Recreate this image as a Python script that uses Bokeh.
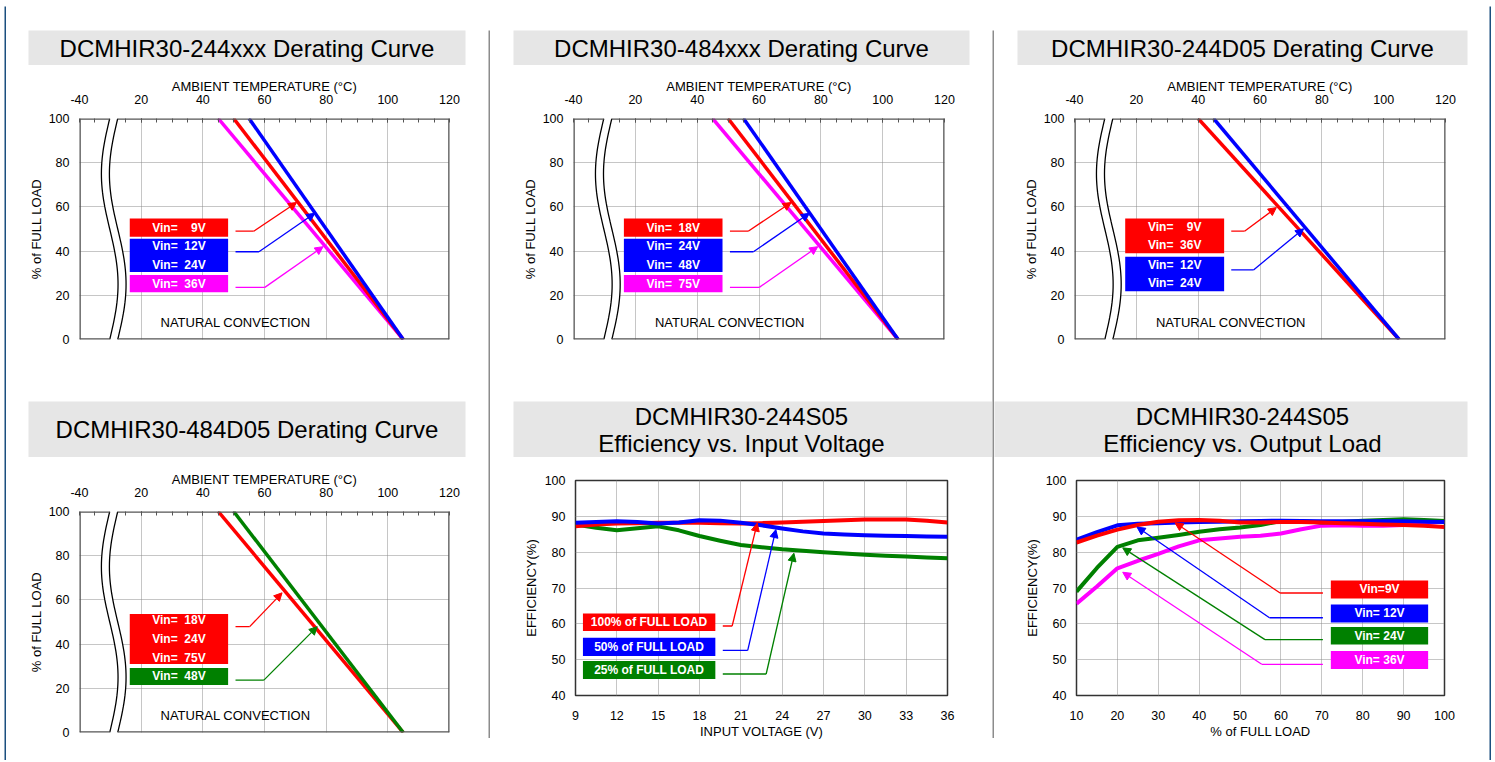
import numpy as np
from bokeh.plotting import figure
from bokeh.layouts import row, column
from bokeh.models import Range1d, FixedTicker, Arrow, NormalHead
from bokeh.core.properties import value
from bokeh.embed import file_html
from bokeh.resources import INLINE

FONT = "Liberation Sans"
RED, BLUE, GREEN, MAG = "#FF0000", "#0000FF", "#008000", "#FF00FF"
BORDER = "#1B4F7F"
SEP = "#8C8C8C"
NB = "\u00a0"

# ---------------- data ----------------
load_pct = [100, 0]                      # derating: % of full load at start / end temp
t244xxx_9v = [50, 105]
t244xxx_12v_24v = [55, 105]
t244xxx_36v = [45, 105]
t484xxx_18v = [50, 105]
t484xxx_24v_48v = [55, 105]
t484xxx_75v = [45, 105]
t244d05_9v_36v = [40, 105]
t244d05_12v_24v = [45, 105]
t484d05_18v_24v_75v = [45, 105]
t484d05_48v = [50, 105]

temp_ticks = [0, 20, 40, 60, 80, 100, 120]
temp_tick_labels = {0: "-40"}
load_ticks = [0, 20, 40, 60, 80, 100]

vin = [9, 10.5, 12, 13.5, 15, 16.5, 18, 19.5, 21, 22.5, 24, 25.5, 27, 28.5, 30, 31.5, 33, 34.5, 36]
eff_full = [87.2, 87.7, 88.0, 88.1, 88.2, 88.2, 88.2, 88.1, 88.0, 88.1, 88.3, 88.5, 88.7, 88.9, 89.1, 89.1, 89.1, 88.8, 88.3]
eff_half = [88.2, 88.4, 88.6, 88.4, 88.0, 88.3, 88.9, 88.8, 88.2, 87.5, 86.6, 85.8, 85.2, 84.9, 84.7, 84.6, 84.5, 84.4, 84.3]
eff_quarter = [87.7, 86.8, 86.1, 86.7, 87.2, 86.1, 84.5, 83.2, 82.0, 81.4, 80.8, 80.4, 80.0, 79.6, 79.3, 79.0, 78.8, 78.5, 78.3]
vin_ticks = [9, 12, 15, 18, 21, 24, 27, 30, 33, 36]

load = [10, 15, 20, 25, 30, 35, 40, 45, 50, 55, 60, 65, 70, 75, 80, 85, 90, 95, 100]
eff_9v = [82.7, 84.6, 86.3, 87.6, 88.5, 88.9, 89.0, 88.8, 88.3, 88.3, 88.4, 88.4, 88.3, 88.1, 87.9, 87.7, 87.6, 87.4, 87.0]
eff_12v = [83.5, 85.6, 87.5, 87.9, 88.1, 88.3, 88.4, 88.5, 88.6, 88.7, 88.8, 88.7, 88.6, 88.6, 88.6, 88.6, 88.6, 88.5, 88.4]
eff_24v = [69.0, 75.6, 81.5, 83.3, 84.0, 84.8, 85.7, 86.4, 86.9, 87.6, 88.7, 88.6, 88.3, 88.4, 88.8, 89.0, 89.2, 89.0, 88.7]
eff_36v = [65.6, 70.4, 75.5, 77.6, 79.5, 81.6, 83.3, 83.8, 84.3, 84.6, 85.2, 86.4, 87.4, 87.5, 87.4, 87.4, 87.6, 88.0, 88.6]
load_ticks_eff = [10, 20, 30, 40, 50, 60, 70, 80, 90, 100]
eff_ticks = [40, 50, 60, 70, 80, 90, 100]


# ---------------- helpers ----------------
def no_align(p):
    try:
        p.frame_align = False
    except Exception:
        pass
    return p


def base_fig(w, h, l, fw, t, fh, **kw):
    p = figure(width=w, height=h, toolbar_location=None, output_backend="svg",
               min_border_left=l, min_border_right=w - l - fw,
               min_border_top=t, min_border_bottom=h - t - fh, **kw)
    p.border_fill_color = "white"
    p.background_fill_color = "white"
    return no_align(p)


def block(w, h, color):
    p = figure(width=w, height=h, toolbar_location=None, output_backend="svg",
               min_border=0, x_axis_type=None, y_axis_type=None,
               x_range=Range1d(0, 1), y_range=Range1d(0, 1))
    p.background_fill_color = color
    p.border_fill_color = color
    p.outline_line_color = None
    return no_align(p)


def title_fig(w, l, fw, t, fh, lines, tx=None):
    """lines: list of (text, distance of the line centre from the box top in px)"""
    p = base_fig(w, t + fh, l, fw, t, fh, x_range=Range1d(0, fw), y_range=Range1d(0, fh),
                 x_axis_type=None, y_axis_type=None)
    p.background_fill_color = "#E6E6E6"
    p.outline_line_color = None
    cx = fw / 2 if tx is None else tx
    p.text(x=[cx] * len(lines), y=[fh - d for _, d in lines], text=[s for s, _ in lines],
           text_font=value(FONT), text_font_size="24px", text_color="black",
           text_align="center", text_baseline="middle")
    return p


def hsep(w, l, fw):
    p = base_fig(w, 2, l, fw, 0, 2, x_range=Range1d(0, 1), y_range=Range1d(0, 1),
                 x_axis_type=None, y_axis_type=None)
    p.background_fill_color = SEP
    p.outline_line_color = None
    return p


def style_axes(p):
    for ax in p.axis:
        ax.major_label_text_font = FONT
        ax.major_label_text_font_size = "12.5px"
        ax.major_label_text_color = "black"
        ax.axis_label_text_font = FONT
        ax.axis_label_text_font_size = "13px"
        ax.axis_label_text_font_style = "normal"
        ax.axis_label_text_color = "black"
        ax.axis_line_color = None
        ax.major_tick_line_color = None
        ax.minor_tick_line_color = None
        ax.major_tick_out = 0
        ax.minor_tick_out = 0
    p.grid.grid_line_color = "#8C8C8C"
    p.grid.grid_line_dash = "1 1"
    p.grid.grid_line_width = 1


def add_box(p, l, r, b, t, color, text):
    p.quad(left=[l], right=[r], bottom=[b], top=[t], fill_color=color, line_color=None)
    p.text(x=[(l + r) / 2], y=[(b + t) / 2], text=[text], text_color="white",
           text_font=value(FONT), text_font_style="bold", text_font_size="12px",
           text_align="center", text_baseline="middle", text_line_height=1.33)


def add_conn(p, x0, x1, y, xt, yt, color):
    p.line([x0, x1], [y, y], line_color=color, line_width=1.3)
    p.add_layout(Arrow(end=NormalHead(size=8, fill_color=color, line_color=color, line_width=1),
                       x_start=x1, y_start=y, x_end=xt, y_end=yt,
                       line_color=color, line_width=1.3))


def derating(w, h, l, fw, t, series, boxes, conns):
    p = base_fig(w, h, l, fw, t, 221, x_range=Range1d(0, 120), y_range=Range1d(0, 100),
                 x_axis_location="above")
    p.outline_line_color = None
    style_axes(p)
    xa = p.xaxis[0]
    xa.ticker = FixedTicker(ticks=temp_ticks, minor_ticks=[5] + list(range(15, 120, 5)))
    xa.major_label_overrides = temp_tick_labels
    xa.axis_label = "AMBIENT TEMPERATURE (°C)"
    xa.major_tick_line_color = "#555555"
    xa.major_tick_in = 4
    xa.minor_tick_line_color = "#555555"
    xa.minor_tick_in = 4
    xa.major_label_standoff = 15
    xa.axis_label_standoff = -2
    ya = p.yaxis[0]
    ya.ticker = FixedTicker(ticks=load_ticks)
    ya.axis_label = "% of FULL LOAD"
    ya.major_label_standoff = 10
    ya.axis_label_standoff = 2
    p.xgrid.ticker = FixedTicker(ticks=temp_ticks[1:-1])
    p.ygrid.ticker = FixedTicker(ticks=load_ticks[1:-1])

    # axis break (decoration)
    yy = np.linspace(0, 100, 61)
    xl = 9.8 - 2.7 * np.sin(2 * np.pi * (100 - yy) / 100)
    xr = xl + 2.6
    p.patch(np.concatenate([xl, xr[::-1]]), np.concatenate([yy, yy[::-1]]),
            fill_color="white", line_color=None)
    p.line(xl, yy, line_color="black", line_width=1.3)
    p.line(xr, yy, line_color="black", line_width=1.3)

    for temps, color in series:
        p.line(temps, load_pct, line_color=color, line_width=3.5)

    # frame (interrupted by the break)
    fc = "#555555"
    p.multi_line(xs=[[0, xl[-1]], [xr[-1], 120], [0, xl[0]], [xr[0], 120], [0, 0], [120, 120]],
                 ys=[[100, 100], [100, 100], [0, 0], [0, 0], [0, 100], [0, 100]],
                 line_color=fc, line_width=2.6)

    for b in boxes:
        add_box(p, *b)
    for c in conns:
        add_conn(p, *c)
    p.text(x=[50.6], y=[7.7], text=["NATURAL CONVECTION"], text_font=value(FONT),
           text_font_size="13px", text_color="black", text_align="center", text_baseline="middle")
    return p


def efficiency(w, h, l, fw, t, xr, xticks, xlabel, series, boxes, conns):
    p = base_fig(w, h, l, fw, t, 215, x_range=Range1d(*xr), y_range=Range1d(40, 100))
    p.outline_line_color = "#333333"
    p.outline_line_width = 1.5
    style_axes(p)
    p.xaxis.ticker = FixedTicker(ticks=xticks)
    p.yaxis.ticker = FixedTicker(ticks=eff_ticks)
    p.xgrid.ticker = FixedTicker(ticks=xticks[1:-1])
    p.ygrid.ticker = FixedTicker(ticks=eff_ticks[1:-1])
    p.xaxis.axis_label = xlabel
    p.yaxis.axis_label = "EFFICIENCY(%)"
    p.xaxis.major_label_standoff = 15
    p.xaxis.axis_label_standoff = 1
    p.yaxis.major_label_standoff = 10
    p.yaxis.axis_label_standoff = 3
    for xs, ys, color in series:
        p.line(xs, ys, line_color=color, line_width=4, line_join="round")
    for b in boxes:
        add_box(p, *b)
    for c in conns:
        add_conn(p, *c)
    return p


# ---------------- panels ----------------
V9 = "Vin=" + NB * 4 + "9V"


def v(n):
    return "Vin=" + NB * 2 + n + "V"


def std_boxes(a, b, c):
    return [(16.3, 48.2, 46.5, 54.7, RED, a),
            (16.3, 48.2, 30.5, 45.6, BLUE, b),
            (16.3, 48.2, 21.4, 29.2, MAG, c)]


std_conns = [
    (50.6, 56.5, 49.0, 70.4, 62.0, RED),
    (50.6, 58.2, 39.7, 76.3, 57.1, BLUE),
    (50.6, 60.1, 23.6, 79.0, 42.0, MAG),
]

# column widths: A 482 (x 6-488), B 502 (x 490-992), C 495 (x 994-1489)
WA, WB, WC = 482, 502, 495
H_TOP_PLOT, H_BOT_PLOT = 307, 303

p1 = derating(WA, H_TOP_PLOT, 73, 370, 53,
              [(t244xxx_36v, MAG), (t244xxx_9v, RED), (t244xxx_12v_24v, BLUE)],
              std_boxes(V9, v("12") + "\n" + v("24"), v("36")), std_conns)

p2 = derating(WB, H_TOP_PLOT, 83, 371, 53,
              [(t484xxx_75v, MAG), (t484xxx_18v, RED), (t484xxx_24v_48v, BLUE)],
              std_boxes(v("18"), v("24") + "\n" + v("48"), v("75")), std_conns)

p3 = derating(WC, H_TOP_PLOT, 80, 371, 53,
              [(t244d05_9v_36v, RED), (t244d05_12v_24v, BLUE)],
              [(16.4, 48.4, 39.0, 54.7, RED, V9 + "\n" + v("36")),
               (16.4, 48.4, 21.8, 37.4, BLUE, v("12") + "\n" + v("24"))],
              [(50.7, 55.0, 49.0, 65.3, 59.7, RED),
               (50.7, 57.9, 31.5, 74.1, 50.1, BLUE)])

p4 = derating(WA, H_BOT_PLOT, 73, 370, 54,
              [(t484d05_18v_24v_75v, RED), (t484d05_48v, GREEN)],
              [(16.3, 48.2, 31.0, 53.6, RED, v("18") + "\n" + v("24") + "\n" + v("75")),
               (16.3, 48.2, 21.5, 29.2, GREEN, v("48"))],
              [(50.6, 55.2, 47.9, 65.7, 63.2, RED),
               (50.6, 59.8, 23.7, 77.1, 47.9, GREEN)])

p5 = efficiency(WB, H_BOT_PLOT, 85, 372, 23, (9, 36), vin_ticks, "INPUT VOLTAGE (V)",
                [(vin, eff_quarter, GREEN), (vin, eff_full, RED), (vin, eff_half, BLUE)],
                [(9.54, 19.15, 58.0, 62.9, RED, "100% of FULL LOAD"),
                 (9.54, 19.15, 51.0, 56.1, BLUE, "50% of FULL LOAD"),
                 (9.54, 19.15, 44.6, 49.6, GREEN, "25% of FULL LOAD")],
                [(19.69, 20.37, 59.4, 22.19, 88.1, RED),
                 (19.69, 21.5, 52.6, 23.54, 86.3, BLUE),
                 (19.69, 22.84, 46.0, 24.85, 79.7, GREEN)])

p6 = efficiency(WC, H_BOT_PLOT, 82, 368, 23, (10, 100), load_ticks_eff, "% of FULL LOAD",
                [(load, eff_36v, MAG), (load, eff_24v, GREEN), (load, eff_12v, BLUE), (load, eff_9v, RED)],
                [(72.2, 96.0, 67.1, 72.1, RED, "Vin=9V"),
                 (72.2, 96.0, 60.4, 65.4, BLUE, "Vin=" + NB + "12V"),
                 (72.2, 96.0, 54.2, 59.1, GREEN, "Vin=" + NB + "24V"),
                 (72.2, 96.0, 47.4, 52.4, MAG, "Vin=" + NB + "36V")],
                [(70.26, 59.8, 68.6, 34.1, 88.2, RED),
                 (70.26, 57.2, 61.7, 24.8, 87.0, BLUE),
                 (70.26, 56.1, 55.6, 21.3, 81.2, GREEN),
                 (70.26, 55.3, 48.7, 21.3, 74.4, MAG)])

t1 = title_fig(WA, 22, 437, 24, 35, [("DCMHIR30-244xxx Derating Curve", 17.5)])
t2 = title_fig(WB, 23, 456, 24, 35, [("DCMHIR30-484xxx Derating Curve", 17.5)])
t3 = title_fig(WC, 23, 450, 24, 35, [("DCMHIR30-244D05 Derating Curve", 17.5)])
t4 = title_fig(WA, 22, 437, 27, 56, [("DCMHIR30-484D05 Derating Curve", 28)])
t5 = title_fig(WB, 23, 479, 27, 56, [("DCMHIR30-244S05", 14.5), ("Efficiency vs. Input Voltage", 41.5)], tx=228)
t6 = title_fig(WC, 0, 473, 27, 56, [("DCMHIR30-244S05", 14.5), ("Efficiency vs. Output Load", 41.5)], tx=248)

colA = column(t1, p1, hsep(WA, 22, 437), t4, p4)
colB = column(t2, p2, hsep(WB, 23, 456), t5, p5)
colC = column(t3, p3, hsep(WC, 23, 450), t6, p6)

H_MAIN = 59 + H_TOP_PLOT + 2 + 83 + H_BOT_PLOT   # 754


def vsep():
    return column(block(2, 24, "white"), block(2, 708, SEP), block(2, H_MAIN - 732, "white"))


W_MAIN = WA + 2 + WB + 2 + WC   # 1483
main = row(colA, vsep(), colB, vsep(), colC)

layout = column(
    block(1494, 4, "white"),
    row(block(4, 2, "white"), block(W_MAIN + 4, 2, BORDER), block(3, 2, "white")),
    row(block(4, H_MAIN, "white"), block(2, H_MAIN, BORDER), main,
        block(2, H_MAIN, BORDER), block(3, H_MAIN, "white")),
)

open("out.html", "w").write(file_html(layout, INLINE))
